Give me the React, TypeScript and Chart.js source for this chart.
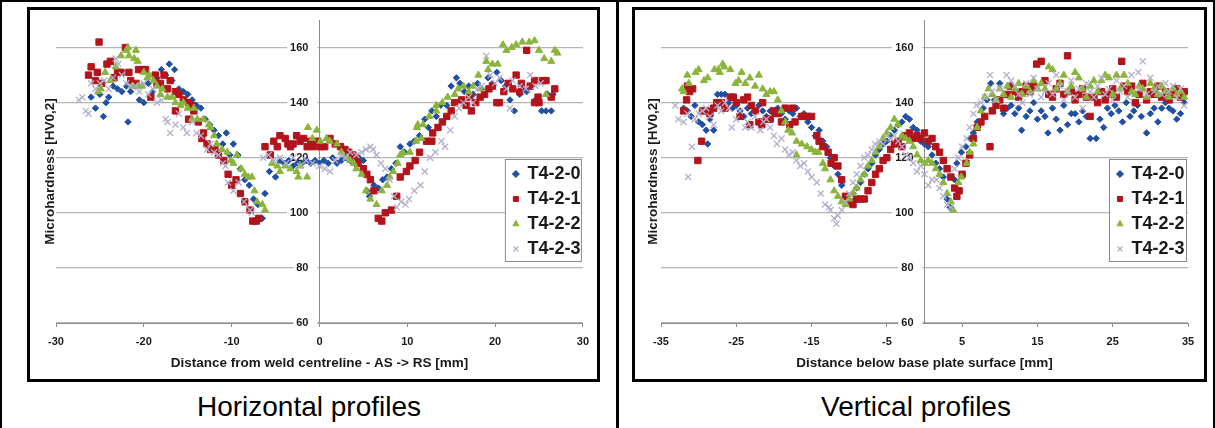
import React, { useEffect, useRef } from 'react';
import { Chart, registerables } from 'chart.js';

Chart.register(...registerables);

type Pt = [number, number];

// ---------- labels / ticks ----------
const SERIES_NAMES = ['T4-2-0', 'T4-2-1', 'T4-2-2', 'T4-2-3'];
const Y_TICKS = [60, 80, 100, 120, 140, 160];
const Y_MIN = 60;
const Y_MAX = 170;
const H_X_TICKS = [-30, -20, -10, 0, 10, 20, 30];
const V_X_TICKS = [-35, -25, -15, -5, 5, 15, 25, 35];
const Y_TITLE = 'Microhardness [HV0,2]';
const H_X_TITLE = 'Distance from weld centreline - AS -> RS [mm]';
const V_X_TITLE = 'Distance below base plate surface [mm]';
const CAPTIONS = ['Horizontal profiles', 'Vertical profiles'];

// ---------- Horizontal profiles: [distance mm, HV] ----------
const H_T420: Pt[] = [
  [-26, 142], [-25.5, 138], [-25, 143], [-24.6, 135], [-24.3, 140], [-24, 142], [-23.5, 146], [-23, 145], [-22.5, 144], [-22, 146],
  [-21.8, 133], [-21.5, 144], [-21, 146], [-20.5, 141], [-20, 140], [-19.5, 147], [-19, 144], [-18.5, 149], [-18, 152], [-17.5, 150],
  [-17.1, 154], [-16.8, 148], [-16.5, 152], [-16, 145], [-15.5, 144], [-15, 143], [-14.5, 141], [-14, 139], [-13.5, 138], [-13, 134],
  [-12.5, 132], [-12, 130], [-11.5, 128], [-11, 125], [-10.6, 129], [-10.2, 121], [-9.8, 125], [-9.3, 121], [-9, 116], [-8.5, 112],
  [-8, 110], [-7.5, 105], [-7, 103], [-6.5, 98], [-6.2, 107], [-5.7, 115], [-5, 113], [-4.5, 119], [-4, 118], [-3.5, 119],
  [-3, 117], [-2.5, 118], [-2, 118], [-1.5, 119], [-1, 118], [-0.5, 119], [0, 118], [0.5, 119], [1, 118], [1.5, 120],
  [2, 118], [2.5, 119], [3, 120], [3.5, 119], [4, 118], [4.5, 120], [5, 119], [5.4, 108], [5.7, 106], [6.2, 110],
  [6.7, 109], [7.2, 112], [7.7, 113], [8.2, 116], [8.7, 118], [9.2, 124], [9.7, 122], [10.3, 125], [10.8, 126], [11.4, 128],
  [12, 134], [12.4, 131], [12.8, 137], [13.3, 135], [13.8, 139], [14.5, 139], [15, 146], [15.6, 149], [16, 147], [16.5, 144],
  [17, 146], [17.5, 143], [18, 147], [18.5, 145], [19.2, 149], [19.7, 147], [20.2, 151], [20.7, 148], [21.2, 146], [21.7, 141],
  [22.2, 137], [22.8, 143], [23.2, 145], [23.6, 144], [24.1, 146], [24.6, 141], [25.3, 137], [25.8, 137], [26, 143], [26.4, 137],
  [26.6, 143],
];
const H_T421: Pt[] = [
  [-26.3, 150], [-26, 153], [-25.5, 148], [-25.3, 151], [-25.1, 162], [-24.8, 147], [-24.2, 154], [-23.8, 155], [-23.4, 149], [-23, 151],
  [-22.6, 151], [-22.1, 160], [-21.7, 151], [-21.5, 148], [-20.9, 147], [-20.6, 152], [-20.2, 152], [-19.8, 152], [-19.2, 142], [-18.7, 150],
  [-18.5, 147], [-18.1, 147], [-17.7, 150], [-17.3, 145], [-17, 148], [-16.4, 144], [-16.4, 137], [-16, 143], [-15.5, 141], [-14.9, 140],
  [-14.9, 134], [-14.5, 139], [-14.3, 137], [-13.8, 133], [-13.4, 127], [-13.2, 129], [-12.8, 125], [-12.4, 123], [-11.9, 123], [-11.5, 121],
  [-10.9, 119], [-10.4, 114], [-10, 110], [-9.5, 112], [-9, 107], [-8.5, 104], [-7.9, 101], [-7.6, 97], [-7.2, 97], [-6.9, 98],
  [-6.2, 124], [-5.6, 121], [-5.2, 126], [-4.8, 124], [-4.5, 128], [-3.9, 127], [-3.6, 125], [-3.3, 124], [-3, 125], [-2.6, 128],
  [-2.2, 126], [-1.8, 127], [-1.4, 124], [-1, 126], [-0.7, 124], [-0.3, 126], [0.1, 124], [0.6, 124], [1.2, 127], [1.8, 125],
  [2.4, 124], [2.9, 123], [3.3, 122], [3.8, 121], [4.2, 120], [4.4, 118], [5, 116], [5.4, 114], [5.8, 112], [6.2, 108],
  [6.7, 98], [7.1, 97], [7.5, 100], [8.2, 101], [8.8, 106], [9.2, 113], [9.9, 115], [10.3, 117], [10.9, 119], [11.4, 122],
  [12.2, 126], [12.8, 126], [12.9, 129], [13.5, 131], [14, 133], [14.5, 135], [15, 137], [15.4, 140], [16.2, 141], [16.7, 139],
  [17.1, 142], [17.3, 137], [17.8, 140], [18.3, 142], [18.8, 143], [19.3, 145], [19.7, 146], [20.2, 140], [20.5, 140], [21, 144],
  [21.5, 147], [22, 145], [22.4, 150], [22.8, 144], [23, 147], [23.6, 159], [24, 146], [24.5, 148], [24.5, 140], [24.9, 142],
  [25, 140], [25.4, 148], [25.8, 148], [26.4, 142], [26.8, 145],
];
const H_T422: Pt[] = [
  [-25.2, 144], [-24.9, 145], [-24.4, 151], [-23.8, 148], [-23.2, 153], [-22.6, 157], [-22, 159], [-21.8, 160], [-21.7, 157], [-21.3, 146],
  [-21.1, 156], [-20.9, 159], [-20.7, 155], [-20.7, 146], [-20.2, 146], [-20, 151], [-19.6, 149], [-19.4, 150], [-18.9, 148], [-18.5, 146],
  [-18.1, 143], [-17.9, 145], [-17.3, 142], [-16.8, 142], [-16.4, 140], [-15.8, 139], [-15.5, 140], [-15, 138], [-14.5, 134], [-14.3, 138],
  [-13.9, 134], [-13.2, 134], [-12.6, 132], [-12.4, 131], [-12, 128], [-11.7, 125], [-11.1, 123], [-10.5, 122], [-10.1, 119], [-9.8, 118],
  [-9.4, 121], [-8.9, 116], [-8.5, 114], [-8.1, 113], [-7.7, 113], [-7.4, 108], [-7.1, 104], [-6.5, 103], [-6.2, 101], [-5.4, 118],
  [-4.8, 117], [-4.5, 115], [-3.9, 117], [-3.3, 116], [-2.6, 115], [-2.4, 113], [-2.2, 117], [-1.4, 113], [-1.3, 131], [-0.8, 127],
  [-0.3, 130], [0.1, 126], [0.8, 127], [1.2, 126], [2, 125], [2.5, 122], [3.1, 120], [3.5, 119], [3.9, 118], [4.2, 116],
  [4.8, 114], [5.3, 108], [5.8, 105], [6.5, 103], [7.1, 108], [7.7, 110], [8, 113], [8.4, 115], [8.9, 118], [9.2, 121],
  [9.5, 122], [10.3, 122], [11, 126], [11.6, 127], [11.1, 131], [11.2, 132], [11.8, 132], [12.5, 135], [13.3, 139], [13.3, 137],
  [14, 140], [14.6, 142], [15.4, 143], [15.8, 145], [16.4, 146], [17, 144], [17.5, 146], [18.1, 150], [18.3, 145], [19, 155],
  [19.2, 152], [19.7, 154], [20.3, 154], [20.9, 161], [21.3, 159], [21.9, 160], [22.4, 161], [23.1, 162], [23.9, 162], [24.5, 162.5],
  [25, 159], [25.6, 156], [25.8, 143], [26.4, 155], [26.8, 159], [27.1, 158],
];
const H_T423: Pt[] = [
  [-27.4, 141], [-27, 142], [-26.6, 137], [-26.3, 136], [-26, 147], [-25.5, 145], [-25, 147], [-24.5, 148], [-24, 145], [-23.5, 149],
  [-23.2, 156], [-22.9, 154], [-22.5, 150], [-22, 147], [-21.5, 146], [-20.9, 146], [-20.5, 144], [-20, 147], [-19.5, 143], [-19, 145],
  [-18.5, 140], [-18, 141], [-17.5, 134], [-17.3, 133], [-17, 129], [-16.4, 132], [-16, 136], [-15.5, 131], [-15.1, 129], [-14.5, 133],
  [-14, 129], [-13.5, 128], [-12.8, 123], [-12.4, 125], [-12, 122], [-11.5, 121], [-11, 118], [-10.7, 117], [-10.4, 111], [-9.8, 108],
  [-9.2, 111], [-8.6, 104], [-7.9, 101], [-7.7, 100], [-6.4, 120], [-5.8, 121], [-5.2, 119], [-4.5, 120], [-3.8, 118], [-3, 120],
  [-2.2, 117], [-1.5, 119], [-0.8, 118], [0, 117], [0.6, 116], [1.2, 115], [1.8, 119], [2.5, 121], [3, 120], [3.5, 122],
  [4.2, 121], [4.8, 122], [5.3, 123], [5.8, 124], [6.1, 123], [6.5, 121], [7, 118], [7.5, 116], [8, 112], [8.5, 106],
  [8.8, 102], [9.3, 104], [9.8, 103], [10.2, 105], [10.8, 108], [11.5, 110], [12, 115], [12.6, 120], [13.2, 122], [13.9, 126],
  [14.3, 124], [14.9, 130], [15.4, 135], [15.9, 138], [16.4, 140], [17, 142], [17.5, 140], [18, 145], [18.5, 146], [19, 157],
  [19.5, 150], [20, 147], [20.5, 149], [21.3, 145], [21.7, 138], [22, 148], [22.8, 146], [23.5, 145], [24, 150], [24.6, 146],
  [25.2, 147],
];

// ---------- Vertical profiles: [depth mm, HV] ----------
const V_T420: Pt[] = [
  [-32, 138], [-31.5, 137], [-31, 135], [-30.5, 139], [-30, 133], [-29.5, 132], [-29, 130], [-28.8, 125], [-28.5, 134], [-28, 130],
  [-27.5, 143], [-27, 143], [-26.5, 143], [-26, 140], [-25.5, 138], [-25, 139], [-24.5, 137], [-24, 135], [-23.5, 138], [-23, 136],
  [-22.5, 137], [-22, 139], [-21.5, 137], [-21, 135], [-20.5, 137], [-20, 136], [-19.5, 138], [-19, 136], [-18.5, 134], [-18, 137],
  [-17.5, 136], [-17, 138], [-16.5, 135], [-16, 136], [-15.5, 133], [-15, 131], [-14.5, 128], [-14, 130], [-13.5, 126], [-13, 124],
  [-12.5, 120], [-12, 117], [-11.5, 114], [-11, 110], [-10.5, 106], [-10, 104], [-9.5, 107], [-9, 109], [-8.5, 111], [-8, 114],
  [-7.5, 116], [-7, 118], [-6.5, 121], [-6, 123], [-5.5, 125], [-5, 126], [-4.5, 128], [-4, 130], [-3.5, 132], [-3, 133],
  [-2.5, 135], [-2, 134], [-1.5, 131], [-1, 130], [-0.5, 126], [0, 125], [0.5, 124], [1, 121], [1.5, 118], [2, 116],
  [2.5, 113], [3, 105], [3.4, 102], [4, 112], [4.3, 118], [4.9, 122], [5.5, 124], [6, 127], [6.5, 129], [7, 133],
  [7.8, 138], [8.3, 141], [8.8, 147], [9.3, 141], [10, 147], [10.5, 136], [11, 138], [11.5, 139], [12, 136], [12.5, 138],
  [12.9, 130], [13.5, 135], [14, 137], [14.5, 140], [15, 134], [15.5, 137], [16, 135], [16.4, 129], [17, 138], [17.5, 134],
  [18, 130], [18.5, 139], [19, 132], [19.5, 136], [20, 136], [20.5, 133], [21, 137], [21.5, 135], [22, 127], [22.8, 127],
  [23.3, 134], [23.8, 131], [24.3, 138], [24.8, 136], [25.3, 139], [25.8, 137], [26.3, 133], [26.8, 140], [27.3, 135], [27.8, 137],
  [28.3, 139], [28.8, 135], [29.5, 129], [30, 136], [30.5, 138], [31, 133], [31.5, 138], [32, 140], [32.5, 138], [33, 137],
  [33.5, 134], [34, 136], [34.5, 140],
];
const V_T421: Pt[] = [
  [-32, 137], [-31.6, 141], [-31.5, 146], [-31.2, 144], [-30.8, 145], [-30.1, 119], [-29.6, 126], [-29.5, 137], [-29, 137], [-28.5, 136],
  [-28, 138], [-27.6, 140], [-27, 140], [-26.5, 138], [-25.8, 142], [-25.4, 142], [-25, 140], [-24.5, 135], [-24, 141], [-23.5, 142],
  [-23.2, 132], [-23, 139], [-22.5, 137], [-22, 133], [-21.6, 132], [-21.5, 140], [-21, 134], [-20.5, 134], [-20, 137], [-19.5, 136],
  [-19, 133], [-18.5, 138], [-17.9, 132], [-17.5, 138], [-17.2, 133], [-16.3, 135], [-16, 135], [-15.6, 135], [-15, 135], [-14.3, 128],
  [-14, 126], [-13.5, 124], [-12.8, 122], [-12.4, 118], [-12, 120], [-11.5, 117], [-11, 112], [-10.5, 106], [-10, 104], [-9.5, 103],
  [-9, 105], [-8.5, 105], [-8, 105], [-7.5, 108], [-7, 111], [-6.5, 114], [-6, 116], [-5.5, 119], [-5, 120], [-4.5, 123],
  [-4, 125], [-3.5, 126], [-3, 124], [-2.5, 128], [-2, 129], [-1.5, 127], [-1, 128], [-0.5, 127], [0, 129], [0.5, 126],
  [1, 127], [1.5, 124], [2, 122], [2.5, 119], [3, 116], [3.5, 113], [4, 109], [4.3, 106], [4.6, 108], [5, 114],
  [5.5, 118], [6, 121], [6.5, 127], [7, 131], [7.5, 133], [8, 135], [8.7, 124], [9, 137], [9.5, 139], [10, 141],
  [10.5, 138], [11, 143], [11.4, 146], [12, 144], [12.5, 142], [13, 144], [13.5, 146], [14, 144], [14.5, 146], [14.9, 154],
  [15.5, 155], [16, 148], [16.5, 143], [17, 142], [17.5, 145], [18, 147], [18.5, 143], [19, 157], [19.5, 144], [20, 141],
  [20.5, 143], [21, 145], [21.5, 142], [22, 135], [22.5, 142], [23, 140], [23.5, 144], [24, 141], [24.5, 143], [25, 145],
  [25.5, 142], [26.2, 155], [26.5, 146], [27, 144], [27.5, 146], [28, 140], [28.5, 143], [29, 147], [29.5, 141], [30, 144],
  [30.5, 143], [31, 146], [31.5, 142], [32, 144], [32.5, 141], [33, 143], [33.5, 145], [34, 142], [34.5, 144],
];
const V_T422: Pt[] = [
  [-32.2, 145], [-32, 144], [-31.5, 150], [-31.3, 147], [-30.4, 151], [-30, 152], [-29.3, 148], [-28.8, 149], [-27.9, 152], [-27.4, 152],
  [-27.2, 151], [-26.8, 154], [-26.6, 153], [-25.8, 152], [-25.1, 147], [-24.7, 148], [-24.3, 151], [-23.8, 147], [-23.2, 149], [-22.5, 146],
  [-22, 150], [-21.5, 145], [-21, 143], [-20.5, 144], [-20, 144], [-19.5, 141], [-19, 137], [-18.5, 133], [-18.1, 130], [-17.6, 129],
  [-17, 126], [-17, 121], [-16.3, 125], [-15.6, 124], [-15, 123], [-14.5, 122], [-14.1, 122], [-13.5, 118], [-13.2, 116], [-12.5, 112],
  [-12, 108], [-11.5, 106], [-11, 104], [-10.5, 103], [-10, 105], [-9.5, 107], [-9, 109], [-8.5, 112], [-8, 114], [-7.5, 117],
  [-7, 119], [-6.5, 122], [-6, 124], [-5.5, 127], [-5, 129], [-4.5, 131], [-4, 134], [-3.5, 132], [-3, 128], [-2.5, 127],
  [-2, 126], [-1.5, 124], [-1, 121], [-0.5, 119], [0, 118], [0.5, 119], [1, 118], [1.5, 116], [2, 114], [2.5, 111],
  [3, 107], [3.5, 104], [3.8, 101], [4.5, 111], [4.9, 113], [5.6, 118], [6, 122], [6.5, 125], [7, 131], [7.5, 137],
  [8, 142], [8.5, 145], [9, 143], [9.5, 141], [10, 145], [10.5, 143], [11, 146], [11.5, 142], [12, 145], [12.5, 147],
  [13, 143], [13.5, 146], [14, 144], [14.5, 148], [15, 145], [15.5, 147], [16, 145], [16.5, 153], [17, 152], [17.5, 145],
  [18, 147], [18.5, 150], [19, 144], [19.5, 146], [20, 151], [20.5, 149], [21, 145], [21.5, 142], [22, 146], [22.5, 148],
  [23, 144], [23.5, 148], [24, 150], [24.5, 149], [25, 143], [25.5, 150], [26, 145], [26.5, 150], [27, 147], [27.5, 144],
  [28, 143], [28.5, 146], [29, 145], [29.5, 142], [30, 147], [30.5, 145], [31, 143], [31.5, 146], [32, 144], [32.5, 142],
  [33, 145], [33.5, 143], [34, 144], [34.5, 142],
];
const V_T423: Pt[] = [
  [-33.1, 139], [-32.7, 134], [-32, 133], [-31.5, 136], [-31.4, 113], [-30.9, 124], [-30.5, 134], [-30, 136], [-29.5, 137], [-29, 138],
  [-28.5, 135], [-28, 132], [-27.5, 139], [-27, 137], [-26.5, 140], [-26, 138], [-25.6, 131], [-25, 134], [-24.5, 137], [-23.8, 131],
  [-23.5, 133], [-23, 131], [-22.5, 135], [-21.8, 130], [-21.4, 133], [-21, 134], [-20.5, 131], [-20, 128], [-19.6, 125], [-19, 127],
  [-18.5, 123], [-18, 121], [-17.5, 122], [-17, 119], [-16.5, 117], [-16, 118], [-15.5, 115], [-15, 113], [-14.3, 111], [-13.8, 107],
  [-13.2, 103], [-12.7, 102], [-12.5, 101], [-12, 98], [-11.7, 96], [-11.5, 99], [-11, 101], [-10.5, 104], [-10, 107], [-9.5, 111],
  [-9, 114], [-8.5, 117], [-8, 120], [-7.5, 121], [-7, 123], [-6.6, 125], [-6, 126], [-5.5, 125], [-5, 128], [-4.5, 127],
  [-4, 128], [-3.5, 126], [-3, 124], [-2.5, 121], [-2, 120], [-1.5, 118], [-1, 115], [-0.5, 117], [0, 114], [0.5, 110],
  [1, 112], [1.6, 112], [2, 109], [2.5, 106], [3, 103], [3.5, 102], [4, 116], [4.5, 120], [5, 124], [5.6, 127],
  [6, 131], [6.5, 136], [6.9, 139], [7.5, 140], [8, 142], [8.7, 150], [9, 144], [9.5, 141], [10, 145], [10.9, 150],
  [11.5, 148], [12, 146], [12.5, 143], [13, 140], [13.5, 147], [14, 143], [14.5, 149], [15, 145], [15.5, 142], [16, 144],
  [16.5, 147], [17, 143], [17.5, 150], [18, 146], [18.5, 141], [19, 144], [19.5, 148], [20, 142], [20.5, 145], [21, 138],
  [21.5, 147], [22, 144], [22.5, 142], [23, 146], [23.5, 149], [24, 143], [24.5, 145], [25, 141], [25.5, 148], [26, 144],
  [26.5, 146], [27, 142], [27.5, 150], [28.4, 151], [28.5, 145], [29, 155], [29.5, 143], [30, 149], [30.5, 144], [31, 146],
  [31.5, 143], [32, 147], [32.5, 144], [33, 146], [33.5, 142], [34, 145], [34.5, 139],
];

const H_SERIES = [H_T420, H_T421, H_T422, H_T423];
const V_SERIES = [V_T420, V_T421, V_T422, V_T423];

// ---------- styles ----------
const FONT = '"Liberation Sans", Arial, Helvetica, sans-serif';
const MARKERS = [
  { pointStyle: 'rectRot', color: '#1f4fa3', radius: 3.2, border: 1 },
  { pointStyle: 'rect', color: '#b3141c', radius: 4.5, border: 1 },
  { pointStyle: 'triangle', color: '#8ab43a', radius: 4.1, border: 1 },
  { pointStyle: 'crossRot', color: '#b3aecb', radius: 4.3, border: 1.3 },
];
const TEXT_COLOR = '#1a1a1a';
const GRID_COLOR = '#b4b4b4';
const AXIS_COLOR = '#8c8c8c';

const legendFramePlugin = {
  id: 'legendFrame',
  afterLayout(chart: any, _args: any, opts: any) {
    const leg = chart.legend;
    if (!leg || !opts) return;
    const ca = chart.chartArea;
    const L = ca.right - opts.w - 1;
    const T = ca.top + opts.top;
    leg.left = L + opts.shiftX;
    leg.top = T + opts.shiftY;
    leg.right = L + opts.w;
    leg.bottom = ca.bottom;
    leg.width = leg.right - leg.left;
    leg.height = leg.bottom - leg.top;
    leg._frame = { L, T, w: opts.w, h: opts.h };
    if (!leg._framePatched) {
      const origDraw = leg.draw;
      leg.draw = function (area: any) {
        const f = this._frame;
        const ctx = this.ctx;
        if (f) {
          ctx.save();
          ctx.fillStyle = '#ffffff';
          ctx.fillRect(f.L, f.T, f.w, f.h);
          ctx.strokeStyle = '#8a8a8a';
          ctx.lineWidth = 1;
          ctx.strokeRect(f.L + 0.5, f.T + 0.5, f.w - 1, f.h - 1);
          ctx.restore();
        }
        origDraw.call(this, area);
      };
      leg._framePatched = true;
    }
  },
};

interface PanelSpec {
  series: Pt[][];
  xMin: number;
  xMax: number;
  xTicks: number[];
  xTitle: string;
  w: number;
  h: number;
  padRight: number;
  yAxisW: number;
  yTitlePad: number;
  yLabelAt: number;
  legendW: number;
}

function buildConfig(p: PanelSpec): any {
  const tickFont = { family: FONT, size: 11, weight: 'bold' as const };
  const titleFont = { family: FONT, size: 13.5, weight: 'bold' as const };
  const yTicksFn = (s: any) => {
    s.ticks = Y_TICKS.map((v) => ({ value: v }));
  };
  return {
    type: 'scatter',
    data: {
      datasets: SERIES_NAMES.map((name, i) => ({
        label: name,
        data: p.series[i].map(([x, y]) => ({ x, y })),
        pointStyle: MARKERS[i].pointStyle,
        pointRadius: MARKERS[i].radius,
        pointHoverRadius: MARKERS[i].radius,
        backgroundColor: MARKERS[i].color,
        borderColor: MARKERS[i].color,
        borderWidth: MARKERS[i].border,
        showLine: false,
        order: SERIES_NAMES.length - 1 - i,
        xAxisID: 'x',
        yAxisID: 'y',
      })),
    },
    options: {
      animation: false,
      responsive: false,
      devicePixelRatio: 1,
      events: [],
      layout: { padding: { left: 0, right: p.padRight, top: 10, bottom: 0 } },
      plugins: {
        tooltip: { enabled: false },
        legend: {
          display: true,
          position: 'chartArea',
          align: 'start',
          labels: {
            usePointStyle: true,
            boxWidth: 5,
            boxHeight: 5,
            padding: 7,
            color: TEXT_COLOR,
            font: { family: FONT, size: 18, weight: 'bold' },
            sort: (a: any, b: any) => a.datasetIndex - b.datasetIndex,
          },
        },
        legendFrame: { w: p.legendW, h: 103, top: 139, shiftX: 1.5, shiftY: -1 },
      },
      scales: {
        x: {
          type: 'linear',
          axis: 'x',
          position: 'bottom',
          min: p.xMin,
          max: p.xMax,
          afterBuildTicks: (s: any) => {
            s.ticks = p.xTicks.map((v) => ({ value: v }));
          },
          afterFit: (s: any) => {
            s.height = 56;
          },
          grid: { drawOnChartArea: false, drawTicks: true, tickLength: 4, color: AXIS_COLOR, z: -1 },
          border: { display: true, color: AXIS_COLOR, width: 1 },
          ticks: { font: tickFont, color: TEXT_COLOR, padding: 8, maxRotation: 0, autoSkip: false },
          title: { display: true, text: p.xTitle, font: titleFont, color: TEXT_COLOR, padding: { top: 0, bottom: 8 } },
        },
        y: {
          type: 'linear',
          axis: 'y',
          position: { x: 0 },
          min: Y_MIN,
          max: Y_MAX,
          afterBuildTicks: yTicksFn,
          afterFit: (s: any) => {
            s.width = 0;
          },
          grid: { color: GRID_COLOR, lineWidth: 1.2, drawTicks: false, z: -1 },
          border: { display: true, color: AXIS_COLOR, width: 1 },
          ticks: { display: false },
        },
        yl: {
          type: 'linear',
          axis: 'y',
          position: { x: p.yLabelAt },
          min: Y_MIN,
          max: Y_MAX,
          afterBuildTicks: yTicksFn,
          afterFit: (s: any) => {
            s.width = 0;
          },
          grid: { display: false, drawTicks: false },
          border: { display: false },
          ticks: {
            font: tickFont,
            color: TEXT_COLOR,
            padding: 0,
            showLabelBackdrop: true,
            backdropColor: '#ffffff',
            backdropPadding: { top: 1, bottom: 1, left: 3, right: 9 },
          },
        },
        yt: {
          type: 'linear',
          axis: 'y',
          position: 'left',
          min: Y_MIN,
          max: Y_MAX,
          ticks: { display: false },
          grid: { display: false, drawTicks: false },
          border: { display: false },
          afterFit: (s: any) => {
            s.width = p.yAxisW;
          },
          title: { display: true, text: Y_TITLE, font: titleFont, color: TEXT_COLOR, padding: { top: p.yTitlePad, bottom: 0 } },
        },
      },
    },
    plugins: [legendFramePlugin],
  };
}

function Panel({ spec, left, top }: { spec: PanelSpec; left: number; top: number }) {
  const ref = useRef<HTMLCanvasElement>(null);
  useEffect(() => {
    if (!ref.current) return;
    const chart = new Chart(ref.current, buildConfig(spec));
    return () => chart.destroy();
  }, [spec]);
  return (
    <canvas
      ref={ref}
      width={spec.w}
      height={spec.h}
      style={{ position: 'absolute', left, top, width: spec.w, height: spec.h }}
    />
  );
}

const H_SPEC: PanelSpec = {
  series: H_SERIES, xMin: -30, xMax: 30, xTicks: H_X_TICKS, xTitle: H_X_TITLE,
  w: 567, h: 369, padRight: 14, yAxisW: 26, yTitlePad: 11.9, yLabelAt: -1.25, legendW: 77,
};
const V_SPEC: PanelSpec = {
  series: V_SERIES, xMin: -35, xMax: 35, xTicks: V_X_TICKS, xTitle: V_X_TITLE,
  w: 569, h: 369, padRight: 16, yAxisW: 26, yTitlePad: 9.9, yLabelAt: -1.46, legendW: 78,
};

const line = (l: number, t: number, w: number, h: number): React.CSSProperties => ({
  position: 'absolute', left: l, top: t, width: w, height: h, background: '#000',
});

const captionStyle = (l: number, w: number): React.CSSProperties => ({
  position: 'absolute', left: l, top: 391, width: w, height: 32, textAlign: 'center',
  fontFamily: FONT, fontSize: 28, lineHeight: '32px', color: '#000',
});

export default function App() {
  return (
    <div style={{ position: 'absolute', left: 0, top: 0, width: 1215, height: 428, background: '#fff', overflow: 'hidden' }}>
      <div style={line(0, 0, 1215, 2)} />
      <div style={line(0, 0, 2, 428)} />
      <div style={line(616, 0, 3, 428)} />
      <div style={line(1213, 0, 2, 428)} />
      <div style={{ position: 'absolute', left: 27, top: 7, width: 573, height: 375, border: '3px solid #000', boxSizing: 'border-box' }} />
      <div style={{ position: 'absolute', left: 632, top: 7, width: 575, height: 375, border: '3px solid #000', boxSizing: 'border-box' }} />
      <Panel spec={H_SPEC} left={30} top={10} />
      <Panel spec={V_SPEC} left={635} top={10} />
      <div style={captionStyle(2, 614)}>{CAPTIONS[0]}</div>
      <div style={captionStyle(619, 594)}>{CAPTIONS[1]}</div>
    </div>
  );
}
